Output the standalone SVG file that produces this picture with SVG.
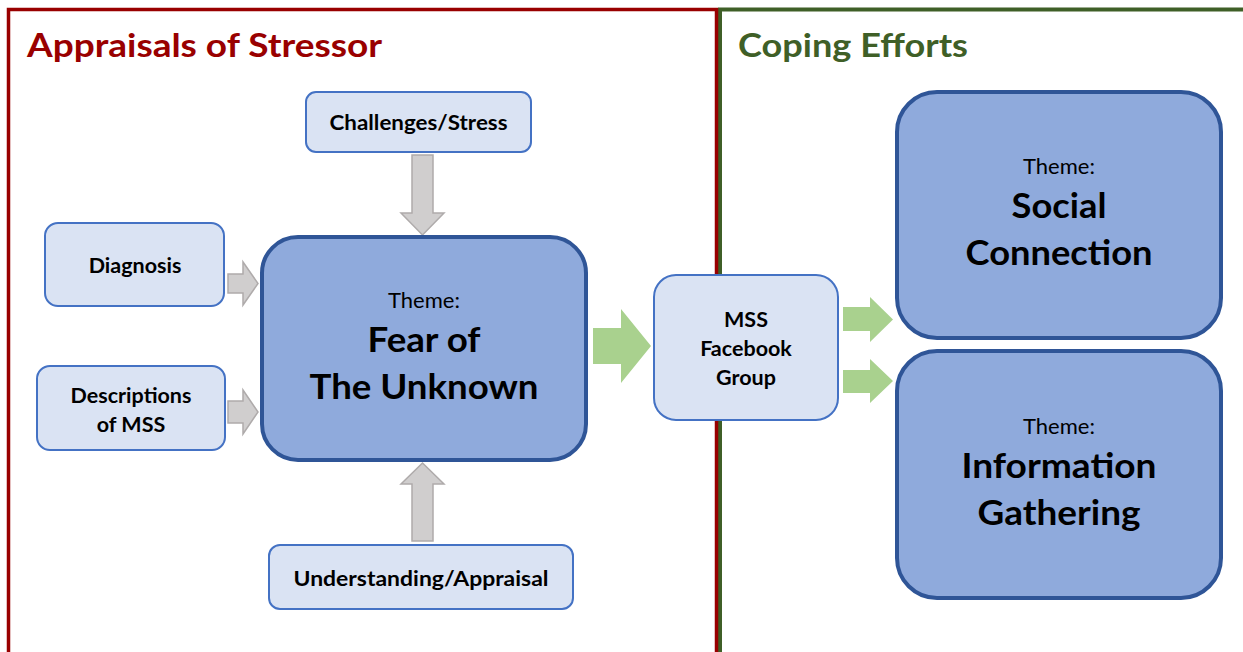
<svg xmlns="http://www.w3.org/2000/svg" width="1243" height="652" viewBox="0 0 1243 652">
  <style>
    text { font-family: Lato, "Open Sans", "Liberation Sans", sans-serif; text-anchor: middle; fill: #000; }
    .frame-red { fill: none; stroke: #990000; stroke-width: 3.5; }
    .frame-green { fill: none; stroke: #3f5f27; stroke-width: 4; }
    .head-red { font-weight: 700; font-size: 33px; fill: #990000; text-anchor: start; }
    .head-green { font-weight: 700; font-size: 33px; fill: #3f5f27; text-anchor: start; }
    .small { fill: #dae3f3; stroke: #4472c4; stroke-width: 2; }
    .theme { fill: #8faadc; stroke: #2f5597; stroke-width: 4; }
    .lbl { font-weight: 700; font-size: 21.5px; }
    .tag { font-size: 22px; }
    .big { font-weight: 700; font-size: 35px; }
    .grey { fill: #d0cece; stroke: #afabab; stroke-width: 1.5; }
    .green { fill: #a9d18e; stroke: none; }
  </style>

  <!-- section frames -->
  <rect class="frame-green" x="720" y="9.5" width="540" height="660"/>
  <rect class="frame-red" x="8.5" y="9.5" width="708" height="660"/>
  <text class="head-red" x="27" y="57" textLength="355" lengthAdjust="spacingAndGlyphs">Appraisals of Stressor</text>
  <text class="head-green" x="738" y="57" textLength="230" lengthAdjust="spacingAndGlyphs">Coping Efforts</text>

  <!-- connectors -->
  <g id="connectors">
    <polygon class="grey" points="412,155 433,155 433,213 444,213 422.5,235 401,213 412,213"/>
    <polygon class="grey" points="412,541 433,541 433,484 444,484 422.5,463 401,484 412,484"/>
    <polygon class="grey" points="228,274 243,274 243,262 258,283.5 243,305 243,293 228,293"/>
    <polygon class="grey" points="228,401 243,401 243,390 258,412 243,434 243,423 228,423"/>
    <polygon class="green" points="593,328 621,328 621,309 651,346 621,383 621,364 593,364"/>
    <polygon class="green" points="843,307 870,307 870,297 893,319.5 870,342 870,331 843,331"/>
    <polygon class="green" points="843,370 870,370 870,359 893,381 870,403 870,393 843,393"/>
  </g>

  <g id="challenges">
    <rect class="small" x="306" y="92" width="225" height="60" rx="10"/>
    <text class="lbl" x="418.5" y="130" textLength="178" lengthAdjust="spacingAndGlyphs">Challenges/Stress</text>
  </g>

  <g id="diagnosis">
    <rect class="small" x="45" y="223" width="179" height="83" rx="13"/>
    <text class="lbl" x="135" y="273">Diagnosis</text>
  </g>

  <g id="descriptions">
    <rect class="small" x="37" y="366" width="188" height="84" rx="13"/>
    <text class="lbl" x="131" y="403">Descriptions</text>
    <text class="lbl" x="131" y="432">of MSS</text>
  </g>

  <g id="fear">
    <rect class="theme" x="262" y="237" width="324" height="223" rx="36"/>
    <text class="tag" x="424" y="308">Theme:</text>
    <text class="big" x="424" y="352" textLength="113" lengthAdjust="spacingAndGlyphs">Fear of</text>
    <text class="big" x="424" y="399" textLength="229" lengthAdjust="spacingAndGlyphs">The Unknown</text>
  </g>

  <g id="understanding">
    <rect class="small" x="269" y="545" width="304" height="64" rx="11"/>
    <text class="lbl" x="421" y="586" textLength="255" lengthAdjust="spacingAndGlyphs">Understanding/Appraisal</text>
  </g>

  <g id="facebook">
    <rect class="small" x="654" y="275" width="184" height="145" rx="22"/>
    <text class="lbl" x="746" y="327">MSS</text>
    <text class="lbl" x="746" y="356">Facebook</text>
    <text class="lbl" x="746" y="385">Group</text>
  </g>

  <g id="social">
    <rect class="theme" x="897" y="92" width="324" height="246" rx="40"/>
    <text class="tag" x="1059" y="174">Theme:</text>
    <text class="big" x="1059" y="218" textLength="95" lengthAdjust="spacingAndGlyphs">Social</text>
    <text class="big" x="1059" y="265" textLength="187" lengthAdjust="spacingAndGlyphs">Connection</text>
  </g>

  <g id="information">
    <rect class="theme" x="897" y="351" width="324" height="247" rx="40"/>
    <text class="tag" x="1059" y="434">Theme:</text>
    <text class="big" x="1059" y="478" textLength="195" lengthAdjust="spacingAndGlyphs">Information</text>
    <text class="big" x="1059" y="525" textLength="163" lengthAdjust="spacingAndGlyphs">Gathering</text>
  </g>
</svg>
